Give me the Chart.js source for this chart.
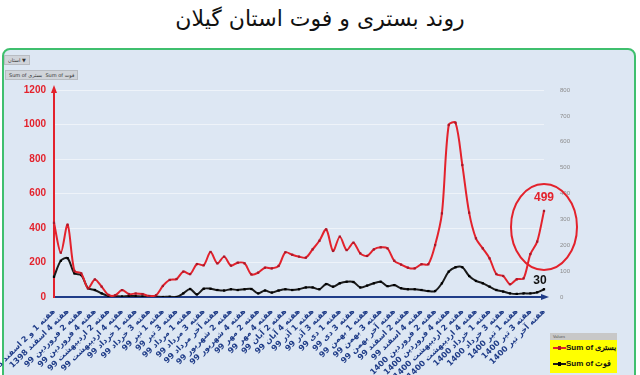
<!DOCTYPE html>
<html>
<head>
  <meta charset="utf-8">
  <title>روند بستری و فوت استان گیلان</title>
  <script src="https://cdn.jsdelivr.net/npm/chart.js"></script>
  <style>
    body {
      margin: 0;
      width: 640px;
      height: 375px;
      overflow: hidden;
      position: relative;
      background-color: white;
      font-family: "DejaVu Sans", sans-serif;
    }

    #title {
      position: absolute;
      left: 0;
      top: 6px;
      width: 640px;
      text-align: center;
      font-size: 22px;
      color: #111;
    }

    #panel {
      position: absolute;
      left: 2px;
      top: 48px;
      width: 630px;
      height: 340px;
      border: 2px solid #3fbf6e;
      border-radius: 8px;
      background-color: #dde7f3;
    }

    .btn {
      position: absolute;
      background-color: #d0d4da;
      border: 1px solid #b8bcc2;
      font-size: 5px;
      color: #333;
      padding: 1px 3px;
      white-space: nowrap;
    }

    #chartBox {
      position: absolute;
      left: 0;
      top: 0;
      width: 640px;
      height: 375px;
    }

    #legend {
      position: absolute;
      left: 550px;
      top: 333px;
      width: 67px;
      height: 40px;
      background-color: #ffff00;
      font-family: "Liberation Sans", sans-serif;
      font-weight: bold;
      font-size: 8px;
      color: #111;
    }

    #legend .head {
      background-color: #c8c8c8;
      font-size: 4px;
      font-weight: normal;
      color: #555;
      height: 7px;
      line-height: 7px;
      padding-left: 3px;
    }

    #legend .item {
      height: 16px;
      line-height: 16px;
      padding-left: 3px;
      white-space: nowrap;
    }

    #legend .mark {
      display: inline-block;
      width: 13px;
      height: 2px;
      vertical-align: middle;
      position: relative;
    }

    #legend .mark span {
      position: absolute;
      left: 5px;
      top: -1px;
      width: 3px;
      height: 4px;
    }
  </style>
</head>
<body>
  <div id="title">روند بستری و فوت استان گیلان</div>
  <div id="panel"></div>
  <div class="btn" style="left:4px; top:55px;">استان ▼</div>
  <div class="btn" style="left:5px; top:70px;">Sum of بستری &nbsp;Sum of فوت</div>
  <div id="chartBox"><canvas id="trendChart"></canvas></div>
  <div id="legend"></div>

  <script>
    // هفته ها (برچسب هر دو نقطه یکبار نمایش داده می شود)
    const weekLabels = [
      "هفته 1 و 2 اسفند 1398", "هفته 4 اسفند 1398", "هفته 2 فروردین 99", "هفته 4 فروردین 99",
      "هفته 2 اردیبهشت 99", "هفته 4 اردیبهشت 99", "هفته 1 خرداد 99", "هفته 3 خرداد 99",
      "هفته 1 تیر 99", "هفته 3 تیر 99", "هفته 1 مرداد 99", "هفته 3 مرداد 99",
      "هفته آخر مرداد 99", "هفته 2 شهریور 99", "هفته 4 شهریور 99", "هفته 2 مهر 99",
      "هفته 4 مهر 99", "هفته 2 آبان 99", "هفته 4 آبان 99", "هفته 1 آذر 99",
      "هفته 3 آذر 99", "هفته 1 دی 99", "هفته 3 دی 99", "هفته 1 بهمن 99",
      "هفته 3 بهمن 99", "هفته آخر بهمن 99", "هفته 2 اسفند 99", "هفته 4 اسفند 99",
      "هفته 2 فروردین 1400", "هفته 4 فروردین 1400", "هفته 2 اردیبهشت 1400", "هفته 4 اردیبهشت 1400",
      "هفته 1 خرداد 1400", "هفته 3 خرداد 1400", "هفته 1 تیر 1400", "هفته 3 تیر 1400",
      "هفته آخر تیر 1400"
    ];

    // بستری
    const hospitalized = [
      430, 257, 419, 151, 137, 50, 102, 60, 12, 10,
      40, 17, 20, 17, 6, 10, 64, 99, 104, 147,
      133, 191, 184, 261, 195, 234, 182, 199, 195, 131,
      141, 170, 166, 180, 259, 245, 234, 228, 276, 326,
      392, 267, 350, 272, 315, 253, 238, 276, 288, 282,
      210, 188, 170, 166, 190, 190, 301, 485, 997, 1010,
      765, 489, 340, 282, 224, 133, 122, 74, 103, 108,
      249, 321, 499
    ];

    // فوت
    const deaths = [
      78, 140, 150, 91, 85, 34, 27, 14, 4, 3,
      2, 4, 3, 2, 2, 1, 0, 1, 0, 14,
      31, 10, 32, 32, 27, 25, 30, 27, 30, 31,
      14, 25, 17, 25, 30, 27, 30, 37, 37, 30,
      50, 40, 53, 59, 58, 37, 44, 53, 59, 42,
      46, 34, 30, 30, 27, 23, 23, 53, 98, 115,
      115, 81, 62, 53, 40, 27, 21, 14, 12, 14,
      14, 18, 30
    ];

    const leftTicks = [0, 200, 400, 600, 800, 1000, 1200];
    const rightTicks = [0, 100, 200, 300, 400, 500, 600, 700, 800];

    const seriesNames = ["Sum of بستری", "Sum of فوت"];
    const redColor = "#e3222c";
    const navyColor = "#1f3c88";

    const labels = hospitalized.map((v, i) => (i % 2 === 0 ? weekLabels[i / 2] : ""));

    // حلقه قرمز و اعداد آخر هفته و فلش محورها
    const notesPlugin = {
      id: "notes",
      afterDatasetsDraw(chart) {
        const ctx = chart.ctx;
        const area = chart.chartArea;
        const last = hospitalized.length - 1;
        const xPos = chart.scales.x.getPixelForValue(last);
        const yRed = chart.scales.y.getPixelForValue(hospitalized[last]);
        const yBlack = chart.scales.y1.getPixelForValue(deaths[last]);

        ctx.save();
        // فلش محور چپ
        ctx.fillStyle = redColor;
        ctx.beginPath();
        ctx.moveTo(area.left, area.top - 5);
        ctx.lineTo(area.left - 3, area.top + 3);
        ctx.lineTo(area.left + 3, area.top + 3);
        ctx.closePath();
        ctx.fill();
        // فلش محور پایین
        ctx.fillStyle = navyColor;
        ctx.beginPath();
        ctx.moveTo(area.right + 5, area.bottom);
        ctx.lineTo(area.right - 3, area.bottom - 3);
        ctx.lineTo(area.right - 3, area.bottom + 3);
        ctx.closePath();
        ctx.fill();

        ctx.strokeStyle = redColor;
        ctx.lineWidth = 2;
        ctx.beginPath();
        ctx.ellipse(xPos, yRed + 16, 33, 43, 0, 0, Math.PI * 2);
        ctx.stroke();

        ctx.textAlign = "center";
        ctx.textBaseline = "middle";
        ctx.font = "bold 12px 'Liberation Sans Narrow', 'Liberation Sans'";
        ctx.fillStyle = redColor;
        ctx.fillText(String(hospitalized[last]), xPos, yRed - 13);
        ctx.fillStyle = "#111";
        ctx.fillText(String(deaths[last]), xPos - 4, yBlack - 9);
        ctx.restore();
      }
    };

    const chart = new Chart(document.getElementById("trendChart"), {
      type: "line",
      data: {
        labels: labels,
        datasets: [{
          label: seriesNames[0],
          data: hospitalized,
          yAxisID: "y",
          borderColor: redColor,
          borderWidth: 2,
          pointStyle: "rect",
          pointRadius: 1.6,
          pointBackgroundColor: "#a8182a",
          pointBorderColor: "#a8182a",
          pointBorderWidth: 0,
          tension: 0.3,
        }, {
          label: seriesNames[1],
          data: deaths,
          yAxisID: "y1",
          borderColor: "#1a1a1a",
          borderWidth: 2,
          pointStyle: "rect",
          pointRadius: 1.6,
          pointBackgroundColor: "#000",
          pointBorderColor: "#000",
          pointBorderWidth: 0,
          tension: 0.3,
        }],
      },
      options: {
        responsive: true,
        maintainAspectRatio: false,
        animation: false,
        layout: { padding: { top: 90, left: 0, right: 0, bottom: 0 } },
        plugins: {
          legend: { display: false },
          tooltip: { enabled: false },
        },
        scales: {
          x: {
            grid: { display: false },
            border: { color: navyColor, width: 2 },
            ticks: {
              autoSkip: false,
              minRotation: 45,
              maxRotation: 45,
              padding: 2,
              color: navyColor,
              font: { family: "DejaVu Sans", size: 8, weight: "bold" },
            },
            afterFit(scale) {
              scale.height = 78;
              scale.paddingLeft = 0;
              scale.paddingRight = 0;
            },
          },
          y: {
            position: "left",
            min: leftTicks[0],
            max: leftTicks[leftTicks.length - 1],
            afterBuildTicks(scale) {
              scale.ticks = leftTicks.map(v => ({ value: v }));
            },
            grid: { color: "#eef3f9", drawTicks: false },
            border: { color: redColor, width: 2 },
            ticks: {
              padding: 8,
              color: redColor,
              font: { family: "'Liberation Sans Narrow', 'Liberation Sans'", size: 10, weight: "bold" },
              callback: v => String(v),
            },
            afterFit(scale) {
              scale.width = 54;
            },
          },
          y1: {
            position: "right",
            min: rightTicks[0],
            max: rightTicks[rightTicks.length - 1],
            afterBuildTicks(scale) {
              scale.ticks = rightTicks.map(v => ({ value: v }));
            },
            grid: { display: false },
            border: { display: false },
            ticks: {
              padding: 8,
              color: "#8c8c8c",
              font: { family: "Liberation Sans", size: 6 },
              callback: v => String(v),
            },
            afterFit(scale) {
              scale.width = 96;
            },
          },
        },
      },
      plugins: [notesPlugin],
    });

    // راهنمای زرد
    const legendBox = document.getElementById("legend");
    let legendHtml = '<div class="head">Values</div>';
    chart.data.datasets.forEach(ds => {
      legendHtml += '<div class="item"><span class="mark" style="background:' + ds.borderColor +
        '"><span style="background:' + ds.pointBackgroundColor + '"></span></span>' + ds.label + '</div>';
    });
    legendBox.innerHTML = legendHtml;
  </script>
</body>
</html>
